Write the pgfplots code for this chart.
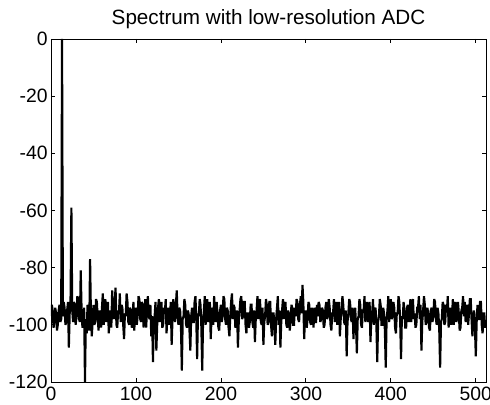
\documentclass[border=0pt]{standalone}
\usepackage{fontspec}
\setmainfont{Liberation Sans}
\usepackage{pgfplots}
\pgfplotsset{compat=1.18}

\begin{document}
\begin{tikzpicture}
\begin{axis}[
  scale only axis,
  width=326.25pt, height=257.25pt,
  xmin=0, xmax=512, ymin=-120, ymax=0,
  xtick={0,100,200,300,400,500},
  ytick={-120,-100,-80,-60,-40,-20,0},
  tick align=inside, major tick length=3pt,
  axis line style={line width=0.6pt},
  every tick/.style={black, line width=0.6pt},
  /pgf/number format/assume math mode=true,
  ticklabel style={font=\fontsize{14.5}{14.5}\selectfont},
  yticklabel style={xshift=1pt},
  title={Spectrum with low-resolution ADC},
  title style={font=\fontsize{15.5}{16}\selectfont, yshift=-2pt},
]
\addplot[black, line width=1.6pt, line join=miter, miter limit=2] coordinates {
(0,-97)(1,-93)(2,-95)(3,-101)(4,-99)(5,-94)(6,-96)(7,-102)(8,-100)(9,-95)(10,-93)(11,-99)(12,-98)(13,0)(14,-97)(15,-92)
(16,-94)(17,-100)(18,-99)(19,-95)(20,-92)(21,-108)(22,-96)(23,-91)(24,-59)(25,-95)(26,-99)(27,-92)(28,-93)(29,-100)(30,-97)(31,-90)
(32,-91)(33,-98)(34,-99)(35,-81)(36,-95)(37,-101)(38,-100)(39,-94)(40,-120)(41,-98)(42,-103)(43,-93)(44,-96)(45,-102)(46,-77)(47,-97)
(48,-104)(49,-99)(50,-93)(51,-100)(52,-99)(53,-91)(54,-92)(55,-98)(56,-102)(57,-95)(58,-96)(59,-101)(60,-94)(61,-89)(62,-100)(63,-96)
(64,-91)(65,-99)(66,-97)(67,-92)(68,-103)(69,-98)(70,-95)(71,-101)(72,-88)(73,-96)(74,-98)(75,-92)(76,-87)(77,-100)(78,-101)(79,-95)
(80,-96)(81,-89)(82,-99)(83,-93)(84,-94)(85,-100)(86,-105)(87,-96)(88,-97)(89,-89)(90,-92)(91,-99)(92,-100)(93,-94)(94,-95)(95,-101)
(96,-98)(97,-92)(98,-102)(99,-96)(100,-94)(101,-100)(102,-97)(103,-90)(104,-91)(105,-98)(106,-99)(107,-92)(108,-93)(109,-101)(110,-96)(111,-91)
(112,-101)(113,-95)(114,-90)(115,-97)(116,-98)(117,-93)(118,-104)(119,-97)(120,-113)(121,-99)(122,-97)(123,-92)(124,-109)(125,-100)(126,-94)(127,-91)
(128,-99)(129,-95)(130,-92)(131,-101)(132,-100)(133,-94)(134,-96)(135,-91)(136,-103)(137,-97)(138,-94)(139,-100)(140,-97)(141,-92)(142,-107)(143,-98)
(144,-91)(145,-96)(146,-99)(147,-93)(148,-88)(149,-97)(150,-100)(151,-94)(152,-95)(153,-101)(154,-116)(155,-98)(156,-97)(157,-91)(158,-93)(159,-100)
(160,-101)(161,-95)(162,-96)(163,-102)(164,-109)(165,-97)(166,-94)(167,-99)(168,-99)(169,-92)(170,-90)(171,-98)(172,-112)(173,-96)(174,-97)(175,-91)
(176,-93)(177,-101)(178,-116)(179,-98)(180,-95)(181,-90)(182,-100)(183,-95)(184,-91)(185,-99)(186,-98)(187,-92)(188,-105)(189,-97)(190,-94)(191,-100)
(192,-90)(193,-96)(194,-99)(195,-92)(196,-96)(197,-101)(198,-102)(199,-95)(200,-93)(201,-99)(202,-97)(203,-90)(204,-91)(205,-98)(206,-100)(207,-94)
(208,-95)(209,-101)(210,-104)(211,-97)(212,-92)(213,-89)(214,-98)(215,-93)(216,-94)(217,-101)(218,-100)(219,-95)(220,-108)(221,-99)(222,-95)(223,-91)
(224,-90)(225,-98)(226,-97)(227,-92)(228,-92)(229,-100)(230,-103)(231,-96)(232,-96)(233,-101)(234,-99)(235,-93)(236,-93)(237,-99)(238,-101)(239,-95)
(240,-106)(241,-98)(242,-95)(243,-90)(244,-98)(245,-93)(246,-91)(247,-99)(248,-100)(249,-94)(250,-107)(251,-99)(252,-97)(253,-91)(254,-93)(255,-100)
(256,-99)(257,-92)(258,-92)(259,-100)(260,-104)(261,-96)(262,-96)(263,-101)(264,-107)(265,-98)(266,-94)(267,-90)(268,-100)(269,-95)(270,-108)(271,-99)
(272,-95)(273,-91)(274,-98)(275,-93)(276,-92)(277,-100)(278,-101)(279,-95)(280,-96)(281,-102)(282,-99)(283,-93)(284,-94)(285,-100)(286,-100)(287,-94)
(288,-97)(289,-91)(290,-92)(291,-98)(292,-99)(293,-93)(294,-90)(295,-96)(296,-86)(297,-92)(298,-105)(299,-97)(300,-95)(301,-101)(302,-98)(303,-92)
(304,-93)(305,-99)(306,-100)(307,-94)(308,-96)(309,-101)(310,-94)(311,-99)(312,-99)(313,-93)(314,-97)(315,-92)(316,-93)(317,-99)(318,-98)(319,-94)
(320,-95)(321,-101)(322,-100)(323,-94)(324,-92)(325,-98)(326,-97)(327,-91)(328,-94)(329,-100)(330,-102)(331,-96)(332,-96)(333,-91)(334,-99)(335,-95)
(336,-92)(337,-100)(338,-97)(339,-92)(340,-104)(341,-98)(342,-95)(343,-90)(344,-93)(345,-99)(346,-100)(347,-95)(348,-111)(349,-99)(350,-96)(351,-91)
(352,-92)(353,-98)(354,-99)(355,-94)(356,-105)(357,-97)(358,-94)(359,-100)(360,-110)(361,-98)(362,-97)(363,-91)(364,-93)(365,-100)(366,-101)(367,-95)
(368,-95)(369,-90)(370,-99)(371,-94)(372,-92)(373,-99)(374,-98)(375,-92)(376,-106)(377,-98)(378,-96)(379,-91)(380,-100)(381,-95)(382,-94)(383,-100)
(384,-113)(385,-99)(386,-97)(387,-91)(388,-93)(389,-100)(390,-100)(391,-94)(392,-96)(393,-102)(394,-115)(395,-98)(396,-95)(397,-90)(398,-99)(399,-94)
(400,-91)(401,-98)(402,-97)(403,-92)(404,-94)(405,-101)(406,-103)(407,-96)(408,-96)(409,-90)(410,-92)(411,-99)(412,-112)(413,-97)(414,-98)(415,-92)
(416,-95)(417,-101)(418,-101)(419,-94)(420,-93)(421,-99)(422,-97)(423,-91)(424,-99)(425,-93)(426,-91)(427,-98)(428,-96)(429,-101)(430,-100)(431,-94)
(432,-94)(433,-90)(434,-98)(435,-93)(436,-109)(437,-99)(438,-95)(439,-90)(440,-93)(441,-100)(442,-99)(443,-94)(444,-96)(445,-101)(446,-102)(447,-95)
(448,-94)(449,-99)(450,-97)(451,-91)(452,-92)(453,-98)(454,-100)(455,-94)(456,-96)(457,-102)(458,-115)(459,-99)(460,-98)(461,-92)(462,-93)(463,-100)
(464,-99)(465,-93)(466,-95)(467,-90)(468,-101)(469,-96)(470,-94)(471,-100)(472,-97)(473,-91)(474,-100)(475,-95)(476,-92)(477,-99)(478,-98)(479,-92)
(480,-96)(481,-102)(482,-101)(483,-95)(484,-94)(485,-90)(486,-97)(487,-92)(488,-99)(489,-94)(490,-93)(491,-100)(492,-96)(493,-91)(494,-91)(495,-98)
(496,-104)(497,-97)(498,-95)(499,-101)(500,-111)(501,-99)(502,-93)(503,-98)(504,-98)(505,-92)(506,-92)(507,-100)(508,-103)(509,-96)(510,-96)(511,-101)
(512,-99)
};
\end{axis}
\pgfresetboundingbox
\path (current axis.south west) ++(-38.25pt,-17.25pt) coordinate (bl);
\path (current axis.north east) ++(3pt,29.25pt) coordinate (tr);
\useasboundingbox (bl) rectangle (tr);
\end{tikzpicture}
\end{document}
